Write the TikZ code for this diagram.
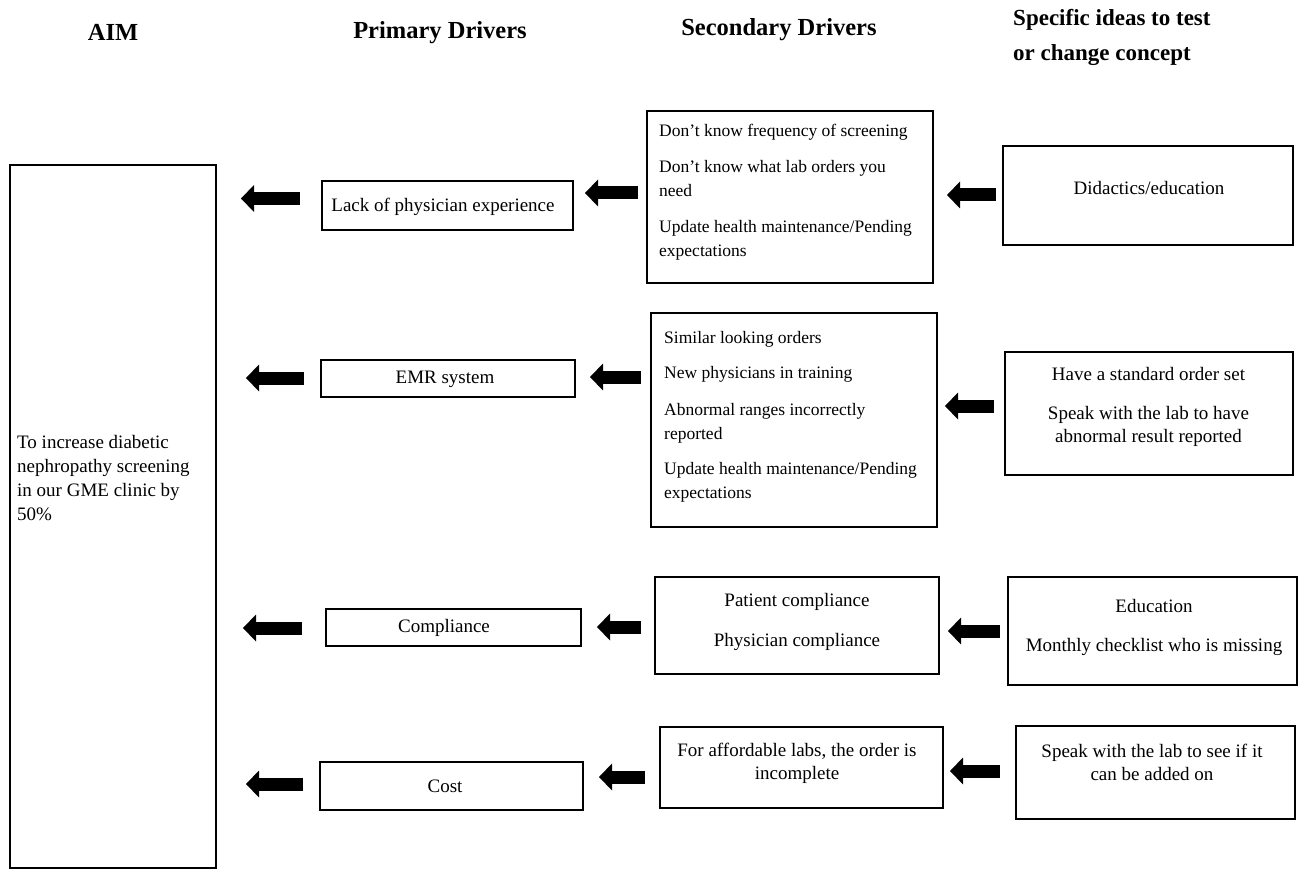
\documentclass[tikz,border=0pt]{standalone}
\usepackage{fontspec}
\setmainfont{Liberation Serif}
\usetikzlibrary{arrows.meta}
\begin{document}
\begin{tikzpicture}[x=1pt,y=-1pt,
  box/.style={draw, line width=2pt, inner sep=0pt, outer sep=0pt},
  hdr/.style={font=\fontsize{24.5}{35}\selectfont\bfseries, inner sep=0pt, align=left, anchor=north},
  txt/.style={font=\fontsize{19}{23}\selectfont, inner sep=0pt, align=center, anchor=north},
  txtsm/.style={font=\fontsize{17.5}{24}\selectfont, inner sep=0pt, align=left, anchor=north west},
  blockarrow/.style={line width=13pt, -{Triangle[length=13pt,width=27pt,line width=0pt]}}
]
\useasboundingbox (0,0) rectangle (1298,869);

% headers
\node[hdr] (hAim) at (113,24.6) {AIM};
\node[hdr] (hPrim) at (440,21.5) {Primary Drivers};
\node[hdr] (hSec) at (779,18.5) {Secondary Drivers};
\node[hdr, anchor=north west, font=\fontsize{23}{35}\selectfont\bfseries] (hIdeas) at (1013,9) {Specific ideas to test\\or change concept};

% aim box
\node[box, minimum width=206pt, minimum height=703pt] (AIM) at (113,516.5) {};
\node[txt, align=left, anchor=north west, font=\fontsize{19}{24}\selectfont] (AIMt) at (17,435)
  {To increase diabetic\\nephropathy screening\\in our GME clinic by\\50\%};

% primary drivers
\node[box, minimum width=251pt, minimum height=49pt] (P1) at (447.5,205.5) {};
\node[box, minimum width=254pt, minimum height=37pt] (P2) at (448,378.5) {};
\node[box, minimum width=255pt, minimum height=37pt] (P3) at (453.5,627.5) {};
\node[box, minimum width=263pt, minimum height=48pt] (P4) at (451.5,786) {};
\node[txt] (P1t) at (443,198) {Lack of physician experience};
\node[txt] (P2t) at (445,371) {EMR system};
\node[txt] (P3t) at (444,619) {Compliance};
\node[txt] (P4t) at (445,780) {Cost};

% secondary drivers
\node[box, minimum width=286pt, minimum height=172pt] (S1) at (790,197) {};
\node[box, minimum width=286pt, minimum height=214pt] (S2) at (794,420) {};
\node[box, minimum width=284pt, minimum height=97pt] (S3) at (797,625.5) {};
\node[box, minimum width=283pt, minimum height=81pt] (S4) at (801.5,767.5) {};
\node[txtsm] (S1t) at (659,124)
  {Don’t know frequency of screening\\[12pt]Don’t know what lab orders you\\need\\[12pt]Update health maintenance/Pending\\expectations};
\node[txtsm] (S2t) at (664,331)
  {Similar looking orders\\[11pt]New physicians in training\\[13pt]Abnormal ranges incorrectly\\reported\\[11pt]Update health maintenance/Pending\\expectations};
\node[txt] (S3t) at (797,593) {Patient compliance\\[17pt]Physician compliance};
\node[txt] (S4t) at (797,743) {For affordable labs, the order is\\incomplete};

% ideas
\node[box, minimum width=290pt, minimum height=99pt] (I1) at (1148,195.5) {};
\node[box, minimum width=288pt, minimum height=123pt] (I2) at (1149,413.5) {};
\node[box, minimum width=289pt, minimum height=108pt] (I3) at (1152.5,631) {};
\node[box, minimum width=279pt, minimum height=93pt] (I4) at (1155.5,772.5) {};
\node[txt] (I1t) at (1149,181) {Didactics/education};
\node[txt] (I2t) at (1148.5,367) {Have a standard order set\\[16pt]Speak with the lab to have\\abnormal result reported};
\node[txt] (I3t) at (1154,599) {Education\\[16pt]Monthly checklist who is missing};
\node[txt] (I4t) at (1152,744) {Speak with the lab to see if it\\can be added on};

% arrows
\draw[blockarrow, shorten <=22pt, shorten >=25pt] (P1.west |- 0,198.5) -- (AIM.east |- 0,198.5);
\draw[blockarrow, shorten <=9pt, shorten >=12pt] (S1.west |- 0,193) -- (P1.east |- 0,193);
\draw[blockarrow, shorten <=7pt, shorten >=14pt] (I1.west |- 0,195) -- (S1.east |- 0,195);

\draw[blockarrow, shorten <=17pt, shorten >=30pt] (P2.west |- 0,378) -- (AIM.east |- 0,378);
\draw[blockarrow, shorten <=10pt, shorten >=15pt] (S2.west |- 0,377) -- (P2.east |- 0,377);
\draw[blockarrow, shorten <=11pt, shorten >=8pt] (I2.west |- 0,406) -- (S2.east |- 0,406);

\draw[blockarrow, shorten <=24pt, shorten >=27pt] (P3.west |- 0,628) -- (AIM.east |- 0,628);
\draw[blockarrow, shorten <=14pt, shorten >=16pt] (S3.west |- 0,627) -- (P3.east |- 0,627);
\draw[blockarrow, shorten <=8pt, shorten >=9pt] (I3.west |- 0,631) -- (S3.east |- 0,631);

\draw[blockarrow, shorten <=17pt, shorten >=30pt] (P4.west |- 0,784) -- (AIM.east |- 0,784);
\draw[blockarrow, shorten <=15pt, shorten >=16pt] (S4.west |- 0,777) -- (P4.east |- 0,777);
\draw[blockarrow, shorten <=16pt, shorten >=7pt] (I4.west |- 0,771) -- (S4.east |- 0,771);
\end{tikzpicture}
\end{document}
